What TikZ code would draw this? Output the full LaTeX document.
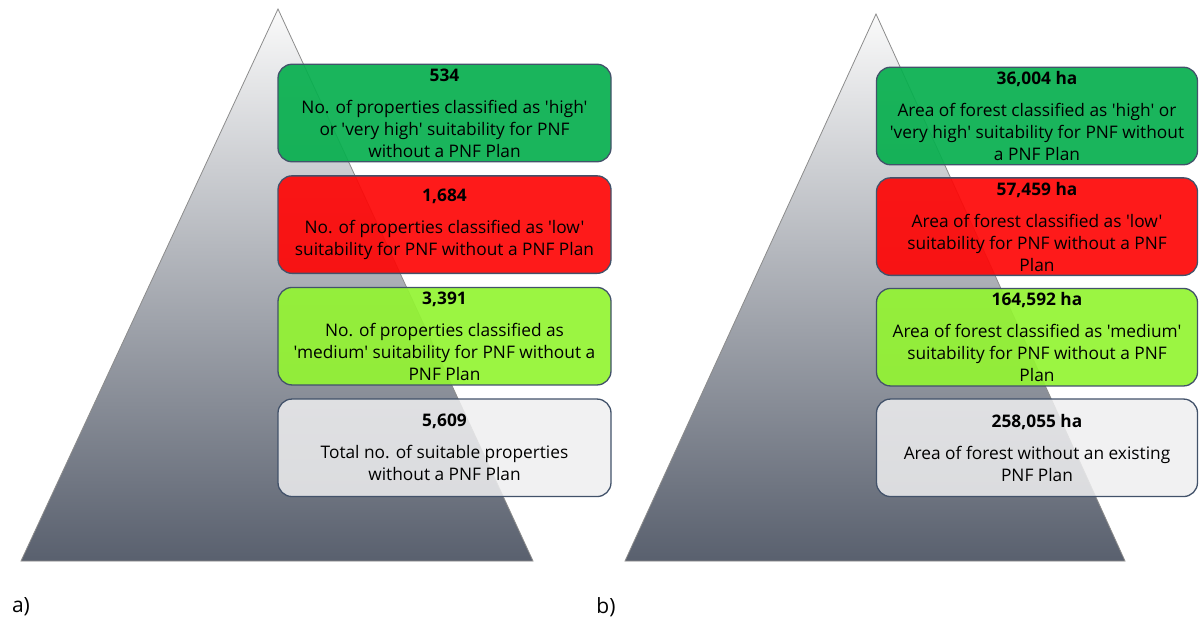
\documentclass[tikz,border=0pt]{standalone}
\usepackage{fontspec}
\setmainfont{Open Sans}[Ligatures=TeXOff]
\usetikzlibrary{positioning}
\definecolor{hiGreen}{HTML}{07AF4E}
\definecolor{lowRed}{HTML}{FE0606}
\definecolor{medGreen}{HTML}{93F432}
\definecolor{allWhite}{HTML}{EFEFF0}
\definecolor{tierEdge}{HTML}{42526A}
\definecolor{pyrTop}{HTML}{FAFAFA}
\definecolor{pyrBottom}{HTML}{59606E}
\definecolor{pyrEdge}{HTML}{8C8C8C}

\begin{document}
\begin{tikzpicture}[x=1pt, y=-1pt,
  tier/.style={draw=tierEdge, line width=1.3pt, rounded corners=14pt,
               fill opacity=0.92, text opacity=1, minimum height=97.5pt, inner sep=0pt,
               align=center, font=\fontsize{17.3}{22}\selectfont},
  leftbox/.style={tier, minimum width=333pt},
  rightbox/.style={tier, minimum width=321pt},
  pyramid/.style={draw=pyrEdge, line width=0.8pt, top color=pyrTop, bottom color=pyrBottom},
  tag/.style={font=\fontsize{21}{24}\selectfont},
  node distance=12.8pt
]
\useasboundingbox (0,0) rectangle (1199,623);

\coordinate (aLeft) at (21,561);
\coordinate (aTop) at (278,9);
\coordinate (aRight) at (533,561);
\coordinate (bLeft) at (625,561);
\coordinate (bTop) at (876,14);
\coordinate (bRight) at (1125,561);
\path[pyramid] (aLeft) -- (aTop) -- (aRight) -- cycle;
\path[pyramid] (bLeft) -- (bTop) -- (bRight) -- cycle;

\node[leftbox, fill=hiGreen] (aHigh) at (444.5,113)
  {\textbf{534}\\[10pt]No. of properties classified as 'high'\\or 'very high' suitability for PNF\\without a PNF Plan};
\node[leftbox, fill=lowRed, below=of aHigh] (aLow)
  {\textbf{1,684}\\[10pt]No. of properties classified as 'low'\\suitability for PNF without a PNF Plan};
\node[leftbox, fill=medGreen, below=of aLow] (aMed)
  {\textbf{3,391}\\[10pt]No. of properties classified as\\'medium' suitability for PNF without a\\PNF Plan};
\node[leftbox, fill=allWhite, fill opacity=0.85, below=of aMed] (aAll)
  {\textbf{5,609}\\[10pt]Total no. of suitable properties\\without a PNF Plan};

\node[rightbox, fill=hiGreen] (bHigh) at (1037,116)
  {\textbf{36,004 ha}\\[10pt]Area of forest classified as 'high' or\\'very high' suitability for PNF without\\a PNF Plan};
\node[rightbox, fill=lowRed, below=11.8pt of bHigh] (bLow)
  {\textbf{57,459 ha}\\[10pt]Area of forest classified as 'low'\\suitability for PNF without a PNF\\Plan};
\node[rightbox, fill=medGreen, below=11.8pt of bLow] (bMed)
  {\textbf{164,592 ha}\\[10pt]Area of forest classified as 'medium'\\suitability for PNF without a PNF\\Plan};
\node[rightbox, fill=allWhite, fill opacity=0.85, below=11.8pt of bMed] (bAll)
  {\textbf{258,055 ha}\\[10pt]Area of forest without an existing\\PNF Plan};

\node[tag] (labA) at (21,607) {a)};
\node[tag] (labB) at (606,607) {b)};
\end{tikzpicture}
\end{document}
